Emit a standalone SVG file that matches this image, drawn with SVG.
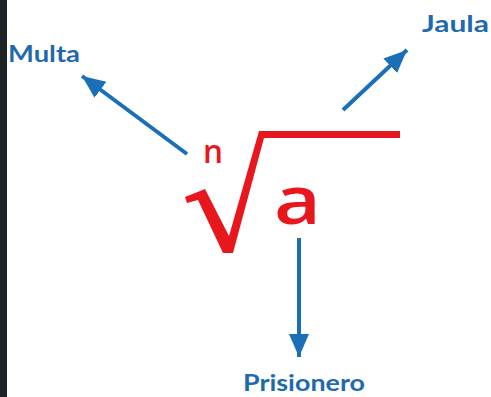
<svg xmlns="http://www.w3.org/2000/svg" width="491" height="397" viewBox="0 0 491 397">
  <style>
    .lbl { font-family: "Lato", "Liberation Sans", sans-serif; font-weight: 700; font-size: 22px; fill: #1f6aad; }
    .conn { stroke: #1a6fb7; stroke-width: 4; fill: none; }
    .red { fill: #e8161d; }
    .redtxt { font-family: "Open Sans", "DejaVu Sans", sans-serif; font-weight: 600; fill: #e8161d; }
  </style>
  <defs>
    <marker id="ah" markerUnits="userSpaceOnUse" markerWidth="24" markerHeight="22" viewBox="0 0 24 22" refX="23" refY="11" orient="auto">
      <path d="M0,1 L23,11 L0,21 Z" fill="#1a6fb7"/>
    </marker>
  </defs>
  <rect x="0" y="0" width="491" height="397" fill="#ffffff"/>
  <rect x="0" y="0" width="7" height="397" fill="#202326"/>

  <g id="radical">
    <polygon class="red" points="185,197 205,189 229,236 259,131 400,131 400,138 264,138 233,253 223,253 198,200 187,203"/>
    <text class="redtxt" x="203" y="163" font-size="32" textLength="20" lengthAdjust="spacingAndGlyphs">n</text>
    <text class="redtxt" x="274" y="224" font-size="67" textLength="47" lengthAdjust="spacingAndGlyphs">a</text>
  </g>

  <g id="connectors">
    <line class="conn" x1="187" y1="154" x2="82" y2="76" marker-end="url(#ah)"/>
    <line class="conn" x1="343" y1="110" x2="407" y2="50" marker-end="url(#ah)"/>
    <line class="conn" x1="299" y1="238" x2="299" y2="357" marker-end="url(#ah)"/>
  </g>

  <g id="multa">
    <text class="lbl" x="8" y="62" textLength="72" lengthAdjust="spacingAndGlyphs">Multa</text>
  </g>
  <g id="jaula">
    <text class="lbl" x="422" y="32" textLength="67" lengthAdjust="spacingAndGlyphs">Jaula</text>
  </g>
  <g id="prisionero">
    <text class="lbl" x="243" y="391" textLength="122" lengthAdjust="spacingAndGlyphs">Prisionero</text>
  </g>
</svg>
